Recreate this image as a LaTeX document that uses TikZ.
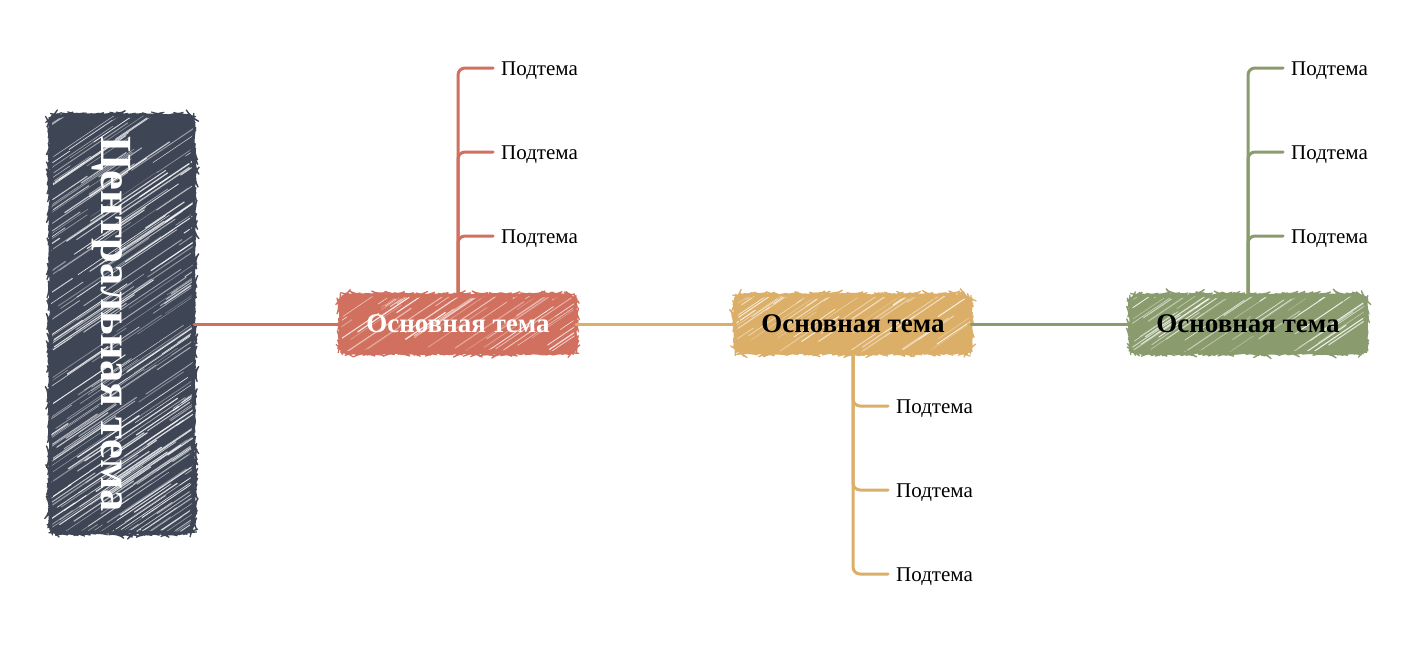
\documentclass[tikz,border=0pt]{standalone}
\usepackage{fontspec}
\setmainfont{Liberation Serif}
\usetikzlibrary{decorations.pathmorphing,calc}
\definecolor{cdark}{HTML}{3E4656}
\definecolor{cred}{HTML}{D1705F}
\definecolor{cyel}{HTML}{DCAF69}
\definecolor{cgrn}{HTML}{8A9C6E}
\newcommand{\sketchhatch}[2]{%
  \coordinate (hsw) at (path picture bounding box.south west);
  \coordinate (hne) at (path picture bounding box.north east);
  \foreach \k in {1,...,#1}{%
    \pgfmathsetmacro{\hx}{-0.3+1.25*rnd}%
    \pgfmathsetmacro{\hy}{-0.15+1.1*rnd}%
    \pgfmathsetmacro{\hl}{40+#2*rnd}%
    \pgfmathsetmacro{\hw}{0.4+0.9*rnd}%
    \pgfmathsetmacro{\ho}{0.3+0.6*rnd}%
    \draw[white, line width=\hw pt, opacity=\ho, line cap=round]
      let \p1=(hsw), \p2=(hne) in
      ({\x1+\hx*(\x2-\x1)}, {\y1+\hy*(\y2-\y1)}) -- ++(34:\hl pt);
  }%
}
\tikzset{
  sketchy/.style={fill=#1, rounded corners=9pt,
    postaction={draw=#1, line width=1.2pt, decorate,
      decoration={random steps, segment length=2.5pt, amplitude=0.8pt}}},
  ctopic/.style={sketchy=cdark, minimum width=144pt, minimum height=418pt, text=white,
    font=\bfseries\fontsize{44.5}{44.5}\selectfont, inner sep=0pt, path picture={\sketchhatch{260}{90}}},
  mtopic/.style={sketchy=#1, minimum width=236pt, minimum height=58pt, inner sep=0pt,
    font=\bfseries\fontsize{27}{27}\selectfont, path picture={\sketchhatch{55}{60}}},
  subt/.style={anchor=west, inner xsep=8pt, inner ysep=0pt, text height=14pt, text depth=0pt,
    font=\fontsize{21}{21}\selectfont},
  link/.style={draw=#1, line width=3pt, line cap=round},
  branch/.style={draw=#1, line width=3pt, line cap=round, rounded corners=7pt},
}
\begin{document}
\begin{tikzpicture}[x=1pt, y=-1pt]
\pgfmathsetseed{7}
\useasboundingbox[fill=white] (0,0) rectangle (1426,656);
% nodes
\node[ctopic] (c) at (122,324) {\rotatebox{-90}{Центральная тема}\hspace*{22pt}};
\node[mtopic=cred, text=white] (r) at (458,324) {Основная тема};
\node[mtopic=cyel, text=black] (y) at (853,324) {Основная тема};
\node[mtopic=cgrn, text=black] (g) at (1248,324) {Основная тема};
\node[subt] (r1) at (493,68) {Подтема};
\node[subt] (r2) at (493,152) {Подтема};
\node[subt] (r3) at (493,236) {Подтема};
\node[subt] (y1) at (888,406) {Подтема};
\node[subt] (y2) at (888,490) {Подтема};
\node[subt] (y3) at (888,574) {Подтема};
\node[subt] (g1) at (1283,68) {Подтема};
\node[subt] (g2) at (1283,152) {Подтема};
\node[subt] (g3) at (1283,236) {Подтема};
% main connectors
\draw[link=cred] (c.east) -- (r.west);
\draw[link=cyel] (r.east) -- (y.west);
\draw[link=cgrn] (y.east) -- (g.west);
% branches
\foreach \s in {r1,r2,r3} \draw[branch=cred] (r.north) |- (\s.west);
\foreach \s in {y1,y2,y3} \draw[branch=cyel] (y.south) |- (\s.west);
\foreach \s in {g1,g2,g3} \draw[branch=cgrn] (g.north) |- (\s.west);
\end{tikzpicture}
\end{document}
